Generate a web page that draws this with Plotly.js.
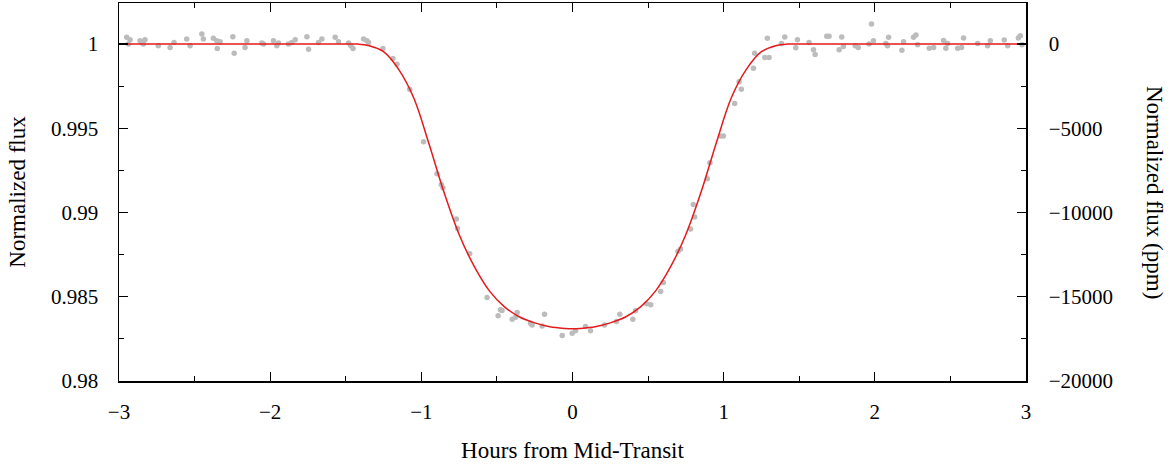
<!DOCTYPE html>
<html>
<head>
<meta charset="utf-8">
<script src="https://cdn.plot.ly/plotly-3.0.1.min.js"></script>
<style>
  html, body { margin: 0; padding: 0; background: #ffffff; }
  #chart { width: 1172px; height: 465px; }
</style>
</head>
<body>
<div id="chart"></div>
<script>
// Observed light curve (hours from mid-transit, normalized flux)
const timeHours = [
  -2.949, -2.938, -2.927, -2.861, -2.850, -2.839, -2.828, -2.740, -2.662, -2.636,
  -2.552, -2.530, -2.452, -2.442, -2.376, -2.353, -2.350, -2.331, -2.247, -2.238,
  -2.166, -2.154, -2.055, -2.044, -1.978, -1.956, -1.945, -1.879, -1.857, -1.834,
  -1.757, -1.746, -1.680, -1.658, -1.570, -1.548, -1.481, -1.466, -1.452, -1.382,
  -1.360, -1.349, -1.254, -1.188, -1.161, -1.077, -0.985, -0.896, -0.868, -0.857,
  -0.768, -0.760, -0.680, -0.565, -0.492, -0.477, -0.466, -0.399, -0.377, -0.366,
  -0.278, -0.267, -0.201, -0.185, -0.068, -0.002, 0.020, 0.086, 0.119, 0.212,
  0.291, 0.313, 0.399, 0.417, 0.490, 0.517, 0.583, 0.601, 0.698, 0.715,
  0.781, 0.799, 0.808, 0.892, 0.909, 0.980, 0.998, 1.073, 1.102, 1.117,
  1.197, 1.205, 1.272, 1.289, 1.300, 1.382, 1.404, 1.477, 1.488, 1.565,
  1.594, 1.605, 1.682, 1.697, 1.764, 1.781, 1.792, 1.870, 1.890, 1.962,
  1.978, 1.991, 2.073, 2.084, 2.091, 2.179, 2.190, 2.256, 2.272, 2.283,
  2.360, 2.389, 2.455, 2.470, 2.481, 2.548, 2.574, 2.587, 2.680, 2.746,
  2.764, 2.856, 2.879, 2.949, 2.962, 2.974
];
const fluxObserved = [
  1.00040, 1.00000, 1.00026, 1.00020, 1.00010, 1.00000, 1.00026, 0.99990, 0.99980, 1.00010,
  1.00030, 0.99990, 1.00060, 1.00030, 1.00034, 1.00020, 0.99974, 1.00014, 1.00044, 0.99946,
  0.99980, 1.00020, 1.00006, 1.00000, 1.00020, 0.99990, 1.00006, 1.00000, 1.00010, 1.00026,
  1.00044, 0.99970, 1.00010, 1.00030, 1.00040, 1.00014, 1.00006, 0.99990, 0.99974, 1.00030,
  1.00020, 1.00010, 0.99974, 0.99915, 0.99881, 0.99732, 0.99421, 0.99230, 0.99167, 0.99147,
  0.98962, 0.98905, 0.98756, 0.98496, 0.98387, 0.98423, 0.98418, 0.98367, 0.98379, 0.98407,
  0.98343, 0.98333, 0.98327, 0.98397, 0.98270, 0.98284, 0.98299, 0.98323, 0.98299, 0.98333,
  0.98353, 0.98397, 0.98367, 0.98417, 0.98458, 0.98452, 0.98532, 0.98585, 0.98770, 0.98784,
  0.98903, 0.99048, 0.98974, 0.99201, 0.99296, 0.99454, 0.99454, 0.99647, 0.99776, 0.99732,
  0.99857, 0.99945, 0.99921, 1.00034, 0.99921, 1.00004, 1.00042, 0.99978, 1.00026, 1.00010,
  0.99966, 0.99938, 1.00046, 1.00046, 0.99966, 1.00042, 0.99986, 0.99990, 0.99980, 1.00000,
  1.00119, 1.00020, 1.00004, 0.99990, 1.00040, 0.99964, 1.00014, 1.00040, 1.00054, 0.99996,
  0.99976, 0.99980, 1.00022, 0.99976, 1.00004, 0.99976, 0.99980, 1.00036, 1.00004, 0.99990,
  1.00020, 1.00024, 0.99990, 1.00036, 1.00050, 0.99996
];

// Transit model curve
const modelHours = [
  -3.00, -2.00, -1.50, -1.42, -1.35, -1.25, -1.15, -1.05, -0.95, -0.85, -0.75, -0.65,
  -0.55, -0.45, -0.35, -0.25, -0.15, -0.05, 0.00, 0.05, 0.15, 0.25, 0.35, 0.45,
  0.55, 0.65, 0.75, 0.85, 0.95, 1.05, 1.15, 1.25, 1.35, 1.42, 1.50, 2.00, 3.00
];
const modelFlux = [
  1.00000, 1.00000, 1.00000, 1.00000, 0.99992, 0.99955, 0.99850, 0.99680, 0.99410, 0.99120, 0.98870, 0.98680,
  0.98535, 0.98440, 0.98380, 0.98345, 0.98322, 0.98312, 0.98310, 0.98312, 0.98322, 0.98345, 0.98380, 0.98440,
  0.98535, 0.98680, 0.98870, 0.99120, 0.99410, 0.99680, 0.99850, 0.99955, 0.99992, 1.00000, 1.00000, 1.00000, 1.00000
];

// Axis ticks
const xTickVals = [-3, -2, -1, 0, 1, 2, 3];
const yTickVals = [0.98, 0.985, 0.99, 0.995, 1];
const yTickText = ['0.98', '0.985', '0.99', '0.995', '1'];
const ppmTickVals = [-20000, -15000, -10000, -5000, 0];
const ppmTickText = ['\u221220000', '\u221215000', '\u221210000', '\u22125000', '0'];
const yRange = [0.98, 1.00244];

const FONT = 'Liberation Serif, Times New Roman, serif';
const TICK_SIZE = 21;
const TITLE_SIZE = 23;

const traces = [
  {
    x: timeHours, y: fluxObserved, type: 'scatter', mode: 'markers',
    marker: { color: '#bcbcbc', size: 5.5 },
    hoverinfo: 'skip', showlegend: false
  },
  {
    x: modelHours, y: modelFlux, type: 'scatter', mode: 'lines',
    line: { color: '#e41a1c', width: 1.5, shape: 'spline', smoothing: 1 },
    hoverinfo: 'skip', showlegend: false
  },
  {
    x: [], y: [], yaxis: 'y2', type: 'scatter', mode: 'markers', showlegend: false
  }
];

const layout = {
  width: 1172, height: 465,
  margin: { l: 119, r: 146, t: 3, b: 84 },
  paper_bgcolor: '#ffffff', plot_bgcolor: '#ffffff',
  font: { family: FONT, size: TICK_SIZE, color: '#000000' },
  showlegend: false,
  xaxis: {
    range: [-3, 3], tickvals: xTickVals,
    ticks: 'inside', ticklen: 9, tickwidth: 1.3, tickcolor: '#000',
    showline: true, linecolor: '#000', linewidth: 1.5, mirror: 'ticks',
    showgrid: false, zeroline: false,
    tickfont: { family: FONT, size: TICK_SIZE },
    minor: { dtick: 0.5, tick0: 0, ticks: 'inside', ticklen: 5, tickwidth: 1.1, tickcolor: '#000', showgrid: false },
    ticklabelstandoff: 11,
    title: { text: 'Hours from Mid-Transit', font: { family: FONT, size: TITLE_SIZE }, standoff: 19 },
    automargin: false
  },
  yaxis: {
    range: yRange, tickvals: yTickVals, ticktext: yTickText,
    ticks: 'inside', ticklen: 9, tickwidth: 1.3, tickcolor: '#000',
    showline: true, linecolor: '#000', linewidth: 1.5, mirror: false,
    showgrid: false, zeroline: false,
    tickfont: { family: FONT, size: TICK_SIZE },
    minor: { dtick: 0.0025, tick0: 0.98, ticks: 'inside', ticklen: 5, tickwidth: 1.1, tickcolor: '#000', showgrid: false },
    ticklabelstandoff: 15,
    title: { text: 'Normalized flux', font: { family: FONT, size: TITLE_SIZE }, standoff: 19 },
    automargin: false
  },
  yaxis2: {
    overlaying: 'y', side: 'right',
    range: [(yRange[0] - 1) * 1e6, (yRange[1] - 1) * 1e6],
    tickvals: ppmTickVals, ticktext: ppmTickText,
    ticks: 'inside', ticklen: 9, tickwidth: 1.3, tickcolor: '#000',
    showline: true, linecolor: '#000', linewidth: 1.5,
    showgrid: false, zeroline: false,
    tickfont: { family: FONT, size: TICK_SIZE },
    minor: { dtick: 2500, tick0: -20000, ticks: 'inside', ticklen: 5, tickwidth: 1.1, tickcolor: '#000', showgrid: false },
    ticklabelstandoff: 17,
    automargin: false
  },
  annotations: [
    {
      text: 'Normalized flux (ppm)', xref: 'paper', yref: 'paper',
      x: 1, y: 0.5, xshift: 129, showarrow: false, textangle: 90,
      font: { family: FONT, size: TITLE_SIZE, color: '#000' },
      xanchor: 'center', yanchor: 'middle'
    }
  ]
};

Plotly.newPlot('chart', traces, layout, { displayModeBar: false, staticPlot: true });
</script>
</body>
</html>
